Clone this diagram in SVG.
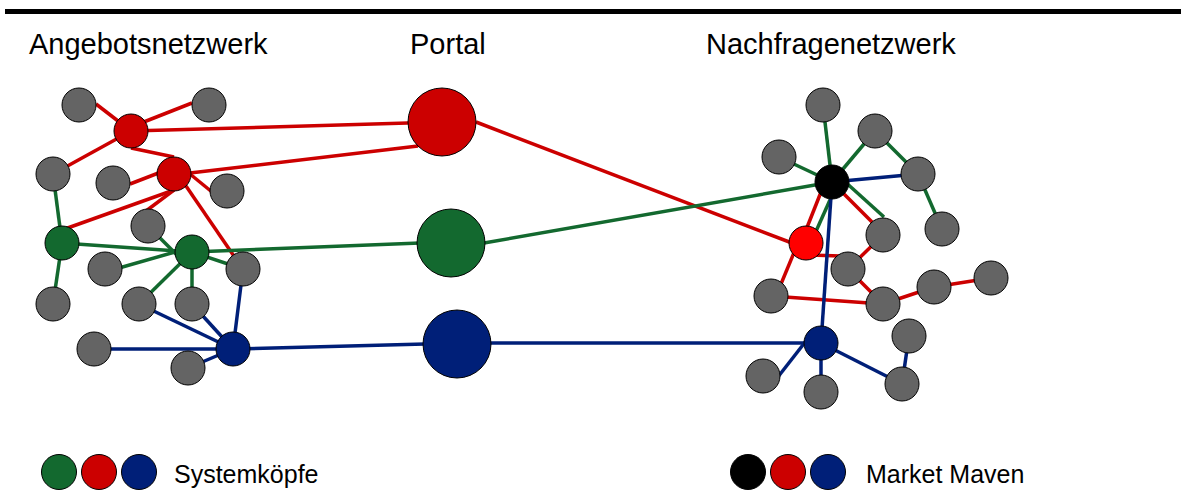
<svg xmlns="http://www.w3.org/2000/svg" width="1181" height="491" viewBox="0 0 1181 491">
  <style>
    .title { font-family: "Liberation Sans", Arial, sans-serif; font-size: 29px; fill: #000; }
    .legend { font-family: "Liberation Sans", Arial, sans-serif; font-size: 25px; fill: #000; }
    circle { stroke: #000; stroke-width: 1; }
    .gray { fill: #646464; }
    .red { fill: #cc0000; }
    .bright { fill: #ff0000; }
    .green { fill: #13692f; }
    .blue { fill: #001f78; }
    .black { fill: #000; }
    .er, .eg, .eb { stroke-width: 3.5; fill: none; stroke-linecap: butt; }
    .er { stroke: #cc0000; }
    .eg { stroke: #13692f; }
    .eb { stroke: #001f78; }
  </style>

  <rect x="5" y="9" width="1176" height="5" fill="#000"/>

  <text class="title" x="29" y="54">Angebotsnetzwerk</text>
  <text class="title" x="410" y="54">Portal</text>
  <text class="title" x="706" y="54">Nachfragenetzwerk</text>

  <g id="connectors">
    <!-- supply network: red -->
    <line class="er" x1="96" y1="104" x2="131" y2="131"/>
    <line class="er" x1="192" y1="103" x2="131" y2="127"/>
    <line class="er" x1="53" y1="174" x2="131" y2="131"/>
    <line class="er" x1="131" y1="148" x2="174" y2="157"/>
    <line class="er" x1="130" y1="184" x2="174" y2="167"/>
    <line class="er" x1="190" y1="174" x2="212" y2="192"/>
    <line class="er" x1="174" y1="190" x2="62" y2="230"/>
    <line class="er" x1="174" y1="190" x2="146" y2="211"/>
    <line class="er" x1="186" y1="186" x2="238" y2="262"/>
    <line class="er" x1="131" y1="131" x2="442" y2="122"/>
    <line class="er" x1="190" y1="173" x2="418" y2="146"/>
    <!-- supply network: green -->
    <line class="eg" x1="53" y1="174" x2="62" y2="243"/>
    <line class="eg" x1="62" y1="243" x2="192" y2="252"/>
    <line class="eg" x1="150" y1="228" x2="182" y2="260"/>
    <line class="eg" x1="105" y1="272" x2="182" y2="250"/>
    <line class="eg" x1="192" y1="252" x2="243" y2="269"/>
    <line class="eg" x1="192" y1="252" x2="139" y2="304"/>
    <line class="eg" x1="192" y1="252" x2="192" y2="304"/>
    <line class="eg" x1="62" y1="243" x2="53" y2="304"/>
    <line class="eg" x1="192" y1="252" x2="420" y2="243"/>
    <!-- supply network: blue -->
    <line class="eb" x1="139" y1="304" x2="233" y2="349"/>
    <line class="eb" x1="192" y1="304" x2="233" y2="349"/>
    <line class="eb" x1="243" y1="269" x2="233" y2="349"/>
    <line class="eb" x1="94" y1="349" x2="233" y2="349"/>
    <line class="eb" x1="188" y1="368" x2="233" y2="349"/>
    <line class="eb" x1="233" y1="349" x2="425" y2="344"/>

    <!-- portal to demand network -->
    <line class="er" x1="476" y1="122" x2="792" y2="243"/>
    <line class="eg" x1="484" y1="243" x2="832" y2="182"/>
    <line class="eb" x1="490" y1="343" x2="821" y2="343"/>

    <!-- demand network: green -->
    <line class="eg" x1="823" y1="105" x2="832" y2="182"/>
    <line class="eg" x1="875" y1="131" x2="832" y2="182"/>
    <line class="eg" x1="779" y1="157" x2="832" y2="182"/>
    <line class="eg" x1="875" y1="131" x2="918" y2="174"/>
    <line class="eg" x1="918" y1="174" x2="942" y2="229"/>
    <line class="eg" x1="832" y1="170" x2="884" y2="217"/>
    <line class="eg" x1="838" y1="182" x2="813" y2="238"/>
    <!-- demand network: red -->
    <line class="er" x1="832" y1="182" x2="872" y2="222"/>
    <line class="er" x1="825" y1="182" x2="804" y2="235"/>
    <line class="er" x1="810" y1="255" x2="840" y2="256"/>
    <line class="er" x1="798" y1="243" x2="776" y2="296"/>
    <line class="er" x1="771" y1="296" x2="883" y2="304"/>
    <line class="er" x1="848" y1="269" x2="883" y2="304"/>
    <line class="er" x1="883" y1="235" x2="848" y2="269"/>
    <line class="er" x1="883" y1="304" x2="934" y2="287"/>
    <line class="er" x1="934" y1="287" x2="991" y2="278"/>
    <!-- demand network: blue -->
    <line class="eb" x1="832" y1="182" x2="918" y2="174"/>
    <line class="eb" x1="832" y1="182" x2="821" y2="343"/>
    <line class="eb" x1="806" y1="341" x2="774" y2="382"/>
    <line class="eb" x1="821" y1="343" x2="821" y2="392"/>
    <line class="eb" x1="821" y1="343" x2="902" y2="384"/>
    <line class="eb" x1="902" y1="384" x2="909" y2="336"/>
  </g>

  <!-- supply network nodes -->
  <g id="s-a"><circle class="gray" cx="79" cy="105" r="17"/></g>
  <g id="s-b"><circle class="gray" cx="209" cy="105" r="17"/></g>
  <g id="s-r1"><circle class="red" cx="131" cy="131" r="17"/></g>
  <g id="s-c"><circle class="gray" cx="53" cy="174" r="17"/></g>
  <g id="s-d"><circle class="gray" cx="113" cy="183" r="17"/></g>
  <g id="s-r2"><circle class="red" cx="174" cy="174" r="17"/></g>
  <g id="s-e"><circle class="gray" cx="227" cy="191" r="17"/></g>
  <g id="s-f"><circle class="gray" cx="148" cy="226" r="17"/></g>
  <g id="s-g1"><circle class="green" cx="62" cy="243" r="17"/></g>
  <g id="s-g2"><circle class="green" cx="192" cy="252" r="17"/></g>
  <g id="s-h"><circle class="gray" cx="105" cy="269" r="17"/></g>
  <g id="s-i"><circle class="gray" cx="243" cy="269" r="17"/></g>
  <g id="s-j"><circle class="gray" cx="53" cy="304" r="17"/></g>
  <g id="s-k"><circle class="gray" cx="139" cy="304" r="17"/></g>
  <g id="s-l"><circle class="gray" cx="192" cy="304" r="17"/></g>
  <g id="s-m"><circle class="gray" cx="94" cy="349" r="17"/></g>
  <g id="s-b1"><circle class="blue" cx="233" cy="349" r="17"/></g>
  <g id="s-n"><circle class="gray" cx="188" cy="368" r="17"/></g>

  <!-- portal nodes -->
  <g id="portal-red"><circle class="red" cx="442" cy="122" r="34"/></g>
  <g id="portal-green"><circle class="green" cx="451" cy="243" r="34"/></g>
  <g id="portal-blue"><circle class="blue" cx="457" cy="344" r="34"/></g>

  <!-- demand network nodes -->
  <g id="d-p1"><circle class="gray" cx="823" cy="105" r="17"/></g>
  <g id="d-p2"><circle class="gray" cx="875" cy="131" r="17"/></g>
  <g id="d-p3"><circle class="gray" cx="779" cy="157" r="17"/></g>
  <g id="d-k"><circle class="black" cx="832" cy="182" r="17"/></g>
  <g id="d-p4"><circle class="gray" cx="918" cy="174" r="17"/></g>
  <g id="d-p5"><circle class="gray" cx="883" cy="235" r="17"/></g>
  <g id="d-p6"><circle class="gray" cx="942" cy="229" r="17"/></g>
  <g id="d-rr"><circle class="bright" cx="806" cy="243" r="17"/></g>
  <g id="d-p7"><circle class="gray" cx="848" cy="269" r="17"/></g>
  <g id="d-p8"><circle class="gray" cx="934" cy="287" r="17"/></g>
  <g id="d-p9"><circle class="gray" cx="991" cy="278" r="17"/></g>
  <g id="d-p10"><circle class="gray" cx="771" cy="296" r="17"/></g>
  <g id="d-p11"><circle class="gray" cx="883" cy="304" r="17"/></g>
  <g id="d-p12"><circle class="gray" cx="909" cy="336" r="17"/></g>
  <g id="d-bb"><circle class="blue" cx="821" cy="343" r="17"/></g>
  <g id="d-p13"><circle class="gray" cx="763" cy="376" r="17"/></g>
  <g id="d-p14"><circle class="gray" cx="821" cy="392" r="17"/></g>
  <g id="d-p15"><circle class="gray" cx="902" cy="384" r="17"/></g>

  <!-- legend -->
  <g id="legend-systemkoepfe">
    <circle class="green" cx="59" cy="472" r="17.5"/>
    <circle class="red" cx="99" cy="472" r="17.5"/>
    <circle class="blue" cx="139" cy="472" r="17.5"/>
    <text class="legend" x="174" y="483">Systemköpfe</text>
  </g>
  <g id="legend-market-maven">
    <circle class="black" cx="748" cy="472" r="17.5"/>
    <circle class="red" cx="788" cy="472" r="17.5"/>
    <circle class="blue" cx="828" cy="472" r="17.5"/>
    <text class="legend" x="866" y="483">Market Maven</text>
  </g>
</svg>
